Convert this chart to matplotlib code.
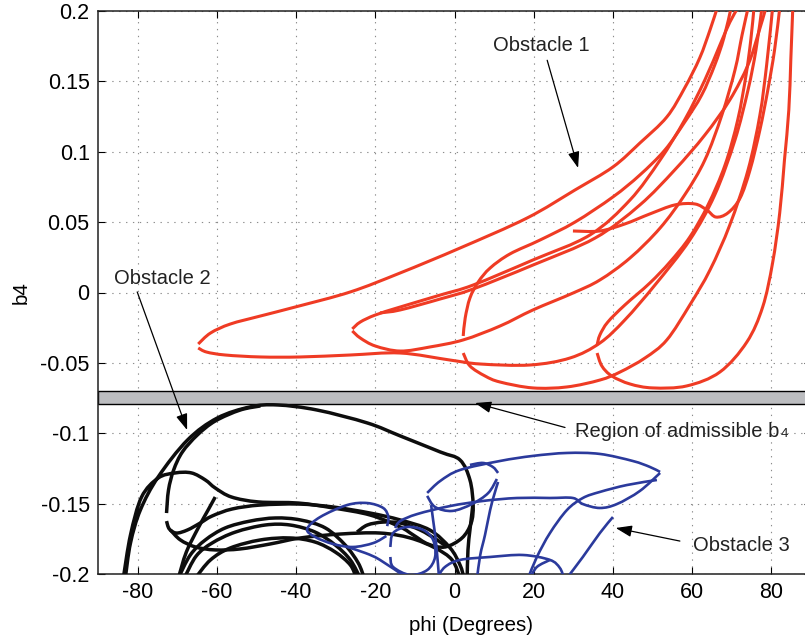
import matplotlib
matplotlib.use("Agg")
import matplotlib.pyplot as plt
import numpy as np
from matplotlib.patches import PathPatch
from matplotlib.path import Path

plt.rcParams["font.family"] = ["Liberation Sans", "DejaVu Sans"]

RED = "#ef3b24"
BLUE = "#2b3a9c"
BLACK = "#0d0d0d"
BAND = "#bcbdc0"

# region of admissible b4
band_low, band_high = -0.079, -0.070

x_ticks = [-80, -60, -40, -20, 0, 20, 40, 60, 80]
x_tick_labels = ["-80", "-60", "-40", "-20", "0", "20", "40", "60", "80"]
y_ticks = [-0.2, -0.15, -0.1, -0.05, 0, 0.05, 0.1, 0.15, 0.2]
y_tick_labels = ["-0.2", "-0.15", "-0.1", "-0.05", "0", "0.05", "0.1", "0.15", "0.2"]

# ---- obstacle 1 (red) ----
red_a_phi = [-64.7, -61.6, -56.6, -49.0, -40.2, -26.3, -13.7, 1.4, 18.3, 30.4, 40.0, 46.8, 53.6, 58.1, 61.9, 64.5, 66.3]
red_a_b4 = [-0.0366, -0.0288, -0.0224, -0.0167, -0.0103, 0.0004, 0.0139, 0.0316, 0.0529, 0.0728, 0.0892, 0.1062, 0.1247, 0.1453, 0.1666, 0.1865, 0.202]

red_b_phi = [-64.7, -62.6, -57.9, -49.0, -38.9, -26.3, -13.7, -1.1, 6.5, 19.1, 29.2, 36.7, 43.0, 50.6, 59.4, 65.7, 70.8, 74.1, 76.1, 77.6]
red_b_b4 = [-0.0394, -0.0423, -0.0444, -0.0458, -0.0458, -0.0444, -0.043, -0.048, -0.0508, -0.0515, -0.0465, -0.0359, -0.0195, 0.0053, 0.0373, 0.0693, 0.1083, 0.1439, 0.1723, 0.202]

red_c_phi = [-25.8, -23.8, -20.0, -13.7, -3.6, 4.7, 19.8, 34.2, 44.3, 51.9, 58.1, 63.2, 67.0, 69.5, 71.5]
red_c_b4 = [-0.0259, -0.021, -0.016, -0.0103, -0.0018, 0.0053, 0.0231, 0.0409, 0.0657, 0.0941, 0.1226, 0.151, 0.1758, 0.192, 0.202]

red_d_phi = [-18.8, -13.7, -3.6, 4.7, 19.8, 35.5, 46.8, 55.6, 63.2, 69.5, 74.1, 76.6, 78.6]
red_d_b4 = [-0.0145, -0.0124, -0.0046, 0.0025, 0.0195, 0.0387, 0.0622, 0.0871, 0.1119, 0.1368, 0.1617, 0.183, 0.202]

red_e_phi = [-25.8, -23.8, -20.0, -13.7, -6.2, 2.2, 11.5, 19.8, 29.9, 36.7, 44.3, 51.9, 58.1, 63.2, 67.5, 70.8, 72.6, 74.1]
red_e_b4 = [-0.0273, -0.0323, -0.038, -0.0416, -0.0387, -0.0337, -0.0238, -0.0124, -0.0004, 0.0089, 0.0245, 0.0458, 0.0693, 0.0941, 0.1261, 0.158, 0.183, 0.202]

red_f_phi = [2.2, 2.7, 3.9, 6.0, 9.0, 14.0, 21.6, 30.4, 40.0, 46.8, 53.1, 58.1, 62.4, 65.7, 68.0, 69.8]
red_f_b4 = [-0.0309, -0.0181, -0.0039, 0.0075, 0.0174, 0.0274, 0.0373, 0.050, 0.0679, 0.0835, 0.1012, 0.121, 0.1403, 0.1616, 0.1808, 0.202]

red_g_phi = [2.2, 3.9, 7.7, 11.5, 19.8, 28.4, 36.7, 41.8, 48.1, 53.6, 59.4, 64.5, 69.5, 74.1, 77.1, 78.8, 80.3]
red_g_b4 = [-0.043, -0.0522, -0.0593, -0.0636, -0.0678, -0.0671, -0.0622, -0.0565, -0.0465, -0.0337, -0.0089, 0.016, 0.048, 0.087, 0.1261, 0.1616, 0.202]

red_h_phi = [36.0, 36.7, 38.7, 43.0, 49.3, 54.4, 59.4, 64.0, 68.3, 71.5, 73.6, 74.8, 75.6]
red_h_b4 = [-0.0373, -0.0302, -0.021, -0.0089, 0.0067, 0.0217, 0.0394, 0.0622, 0.0906, 0.1226, 0.1545, 0.1794, 0.202]

red_i_phi = [36.0, 37.2, 39.7, 44.3, 50.1, 58.6, 67.0, 73.8, 77.8, 80.3, 82.1, 83.3, 84.4, 84.9, 85.4]
red_i_b4 = [-0.043, -0.0522, -0.0593, -0.065, -0.0678, -0.0664, -0.0565, -0.0352, -0.0103, 0.021, 0.0565, 0.0941, 0.1297, 0.1652, 0.202]

red_j_phi = [29.9, 36.7, 43.0, 49.3, 55.6, 60.7, 63.7, 66.0, 69.0, 72.1, 74.6, 77.1, 79.1, 80.8, 82.1]
red_j_b4 = [0.0437, 0.0437, 0.0487, 0.0558, 0.0622, 0.0629, 0.0586, 0.0536, 0.0565, 0.0671, 0.087, 0.1155, 0.1439, 0.1723, 0.202]

# ---- obstacle 2 (black) ----
black_a_phi = [-83.1, -81.8, -79.3, -74.8, -67.4, -59.9, -51.6, -44.7, -34.7, -22.0, -13.7, -3.6, 1.4, 3.9, 4.7, 4.2, 1.9, -2.4, -6.7, -10.4, -13.7, -21.3, -30.6, -39.4, -49.5, -56.3, -60.4, -62.9, -66.4, -70.5, -74.8, -79.0, -81.8, -83.6]
black_a_b4 = [-0.2028, -0.178, -0.1545, -0.131, -0.1048, -0.0892, -0.0813, -0.0799, -0.0835, -0.0927, -0.1019, -0.1133, -0.119, -0.1332, -0.151, -0.1638, -0.1744, -0.1808, -0.1787, -0.1723, -0.1666, -0.1581, -0.1531, -0.1496, -0.1488, -0.1453, -0.1389, -0.1332, -0.1282, -0.1282, -0.1318, -0.1453, -0.1723, -0.2028]

black_b_phi = [-72.7, -72.2, -70.9, -68.7, -64.9, -60.4, -54.1, -49.0]
black_b_b4 = [-0.1567, -0.1403, -0.1261, -0.1133, -0.1012, -0.0913, -0.0835, -0.0806]

black_c_phi = [-72.7, -72.0, -70.2, -67.4, -64.2, -61.2, -56.1, -49.0, -39.4, -30.6, -21.3, -13.7, -6.2, -1.1, 1.4, 2.4]
black_c_b4 = [-0.1624, -0.168, -0.1709, -0.1687, -0.1638, -0.1588, -0.1538, -0.151, -0.1503, -0.1524, -0.1567, -0.1616, -0.1688, -0.1815, -0.1936, -0.2028]

black_d_phi = [-60.4, -62.2, -64.7, -67.7, -69.7]
black_d_b4 = [-0.1453, -0.1545, -0.1673, -0.1844, -0.2028]

black_e_phi = [-69.7, -66.7, -62.9, -57.9, -51.6, -45.2, -38.9, -32.6, -27.6, -24.3, -22.8]
black_e_b4 = [-0.2028, -0.1865, -0.1758, -0.1673, -0.1624, -0.1602, -0.1616, -0.1673, -0.1794, -0.1922, -0.2028]

black_f_phi = [-68.2, -65.2, -61.2, -55.3, -47.8, -41.5, -35.2, -30.1, -26.3, -23.8]
black_f_b4 = [-0.2028, -0.1872, -0.178, -0.1702, -0.1652, -0.1652, -0.1702, -0.1794, -0.19, -0.2028]

black_g_phi = [-65.4, -61.6, -56.6, -49.0, -41.5, -35.2, -30.1, -26.3, -24.8]
black_g_b4 = [-0.2028, -0.19, -0.1815, -0.1758, -0.1744, -0.1773, -0.1844, -0.1936, -0.2028]

black_h_phi = [-71.7, -69.2, -65.4, -60.4, -54.1, -46.6, -38.9, -28.8, -18.8, -11.2, -4.9, -0.6, 1.4]
black_h_b4 = [-0.1688, -0.1758, -0.1808, -0.1829, -0.1822, -0.1787, -0.1744, -0.1716, -0.1709, -0.1744, -0.1815, -0.19, -0.2028]

black_i_phi = [-24.6, -22.0, -18.0, -13.7, -8.7, -4.4, -1.9]
black_i_b4 = [-0.1702, -0.1652, -0.1631, -0.1638, -0.1687, -0.1758, -0.1808]

black_j_phi = [4.6, 4.4, 3.9, 3.4, 3.2]
black_j_b4 = [-0.151, -0.1567, -0.1687, -0.1829, -0.2028]

# ---- obstacle 3 (blue) ----
blue_a_phi = [-17.0, -16.7, -18.0, -22.0, -27.1, -33.9, -37.2, -35.2, -30.6, -25.6, -20.5, -17.2]
blue_a_b4 = [-0.166, -0.1595, -0.1531, -0.1496, -0.151, -0.1595, -0.168, -0.1737, -0.1787, -0.1808, -0.178, -0.173]

blue_b_phi = [-16.2, -15.5, -12.0, -7.9, -5.4, -4.9, -6.9, -11.2, -15.5, -16.2]
blue_b_b4 = [-0.1808, -0.1709, -0.1666, -0.1687, -0.1758, -0.1879, -0.1972, -0.2007, -0.195, -0.1879]

blue_c_phi = [-6.9, -3.6, 1.4, 11.5, 19.8, 28.4, 36.7, 45.0, 49.3, 51.9]
blue_c_b4 = [-0.1424, -0.1339, -0.1261, -0.1197, -0.1161, -0.114, -0.1147, -0.1197, -0.1239, -0.1275]

blue_d_phi = [-6.9, -4.9, -0.6, 4.4, 8.5, 10.7]
blue_d_b4 = [-0.1445, -0.1524, -0.1552, -0.1503, -0.1425, -0.1325]

blue_e_phi = [3.9, 7.2, 9.7, 11.0]
blue_e_b4 = [-0.1225, -0.1211, -0.124, -0.1282]

blue_f_phi = [11.0, 10.0, 9.0, 7.7, 6.5, 5.7]
blue_f_b4 = [-0.1346, -0.1439, -0.1545, -0.1723, -0.1865, -0.2028]

blue_g_phi = [51.9, 46.8, 41.0, 36.7, 32.4, 29.9, 24.1, 15.8, 7.2, -1.1, -9.4, -13.7, -15.0]
blue_g_b4 = [-0.1282, -0.141, -0.1503, -0.1531, -0.1503, -0.146, -0.146, -0.146, -0.1481, -0.1517, -0.1574, -0.1624, -0.1673]

blue_h_phi = [51.1, 43.5, 36.7, 32.4, 28.4, 24.1, 20.8, 18.6]
blue_h_b4 = [-0.1332, -0.1368, -0.1417, -0.146, -0.1545, -0.1709, -0.1879, -0.2028]

blue_i_phi = [40.0, 36.7, 32.4, 28.4]
blue_i_b4 = [-0.1595, -0.1709, -0.1879, -0.2028]

blue_j_phi = [-4.4, -2.4, 1.4, 9.0, 17.3, 24.1, 26.6, 27.6]
blue_j_b4 = [-0.2028, -0.195, -0.19, -0.1879, -0.1865, -0.19, -0.1957, -0.2028]

blue_k_phi = [19.1, 20.8, 24.1]
blue_k_b4 = [-0.2028, -0.195, -0.19]

blue_l_phi = [-5.9, -5.4, -4.6, -3.9]
blue_l_b4 = [-0.151, -0.1616, -0.1794, -0.2028]

blue_m_phi = [-27.1, -22.5, -18.8, -12.0]
blue_m_b4 = [-0.1808, -0.1851, -0.19, -0.2028]

red_curves = [(red_a_phi, red_a_b4), (red_b_phi, red_b_b4), (red_c_phi, red_c_b4),
              (red_d_phi, red_d_b4), (red_e_phi, red_e_b4), (red_f_phi, red_f_b4),
              (red_g_phi, red_g_b4), (red_h_phi, red_h_b4), (red_i_phi, red_i_b4),
              (red_j_phi, red_j_b4)]
black_curves = [(black_a_phi, black_a_b4), (black_b_phi, black_b_b4), (black_c_phi, black_c_b4),
                (black_d_phi, black_d_b4), (black_e_phi, black_e_b4), (black_f_phi, black_f_b4),
                (black_g_phi, black_g_b4), (black_h_phi, black_h_b4), (black_i_phi, black_i_b4),
                (black_j_phi, black_j_b4)]
blue_curves = [(blue_a_phi, blue_a_b4), (blue_b_phi, blue_b_b4), (blue_c_phi, blue_c_b4),
               (blue_d_phi, blue_d_b4), (blue_e_phi, blue_e_b4), (blue_f_phi, blue_f_b4),
               (blue_g_phi, blue_g_b4), (blue_h_phi, blue_h_b4), (blue_i_phi, blue_i_b4),
               (blue_j_phi, blue_j_b4), (blue_k_phi, blue_k_b4), (blue_l_phi, blue_l_b4),
               (blue_m_phi, blue_m_b4)]


def smooth_path(phi, b4):
    """Bezier path passing through the read points (Catmull-Rom tangents)."""
    pts = np.column_stack([phi, b4])
    n = len(pts)
    verts = [pts[0]]
    codes = [Path.MOVETO]
    for i in range(n - 1):
        p0 = pts[i - 1] if i > 0 else pts[i]
        p1, p2 = pts[i], pts[i + 1]
        p3 = pts[i + 2] if i + 2 < n else pts[i + 1]
        verts += [p1 + (p2 - p0) / 6, p2 - (p3 - p1) / 6, p2]
        codes += [Path.CURVE4] * 3
    return Path(verts, codes)


def draw(ax, curves, color, lw, z):
    for phi, b4 in curves:
        ax.add_patch(PathPatch(smooth_path(phi, b4), fill=False, edgecolor=color,
                               lw=lw, joinstyle="round", capstyle="butt", zorder=z))


def main():
    fig = plt.figure(figsize=(8.05, 6.4), dpi=100)
    # right edge of the axes sits just outside the picture, as in the original crop
    ax = fig.add_axes([98 / 805, 66 / 640, 713 / 805, 563 / 640])

    ax.axhspan(band_low, band_high, facecolor=BAND, edgecolor="black", lw=1.0, zorder=1)

    draw(ax, red_curves, RED, 2.2, 3)
    draw(ax, black_curves, BLACK, 2.5, 3)
    draw(ax, blue_curves, BLUE, 1.9, 4)

    ax.set_xlim(-90, 90)
    ax.set_ylim(-0.2, 0.2)
    ax.set_xticks(x_ticks, x_tick_labels)
    ax.set_yticks(y_ticks, y_tick_labels)
    ax.tick_params(direction="in", length=5, width=0.8, top=True, right=True,
                   labelsize=15.5, pad=6)
    ax.grid(True, linestyle=(0, (1.2, 5)), color="#8c8c8c", lw=0.8)
    ax.set_axisbelow(True)
    for side in ax.spines.values():
        side.set_linewidth(1.1)
        side.set_color("#202020")

    ax.set_xlabel("phi (Degrees)", fontsize=14.8)
    ax.xaxis.set_label_coords((471 - 98) / 713, -0.075)
    ax.set_ylabel("b4", fontsize=14.8)
    ax.yaxis.set_label_coords(-0.095, 0.5)

    arrow = dict(arrowstyle="-|>,head_length=0.7,head_width=0.25", color="black",
                 lw=0.9, mutation_scale=14, shrinkA=0, shrinkB=0)
    txt = dict(fontsize=14.5, color="#222222", va="center")

    ax.text(21.8, 0.1758, "Obstacle 1", ha="center", **txt)
    ax.annotate("", xy=(31.2, 0.0885), xytext=(23.4, 0.165), arrowprops=arrow, zorder=6)

    ax.text(-73.7, 0.0103, "Obstacle 2", ha="center", **txt)
    ax.annotate("", xy=(-67.5, -0.0977), xytext=(-80.1, 0.0004), arrowprops=arrow, zorder=6)

    region = ax.text(30.4, -0.0991, "Region of admissible b", ha="left", **txt)
    ax.annotate("4", xy=(1, 0), xycoords=region, xytext=(1, 3.0), textcoords="offset points",
                fontsize=9.5, color="#222222", va="baseline", ha="left")
    ax.annotate("", xy=(5.2, -0.0785), xytext=(27.9, -0.0959), arrowprops=arrow, zorder=6)

    ax.text(60.2, -0.1794, "Obstacle 3", ha="left", **txt)
    ax.annotate("", xy=(40.7, -0.1673), xytext=(56.9, -0.1766), arrowprops=arrow, zorder=6)

    fig.savefig("out.png", dpi=100)


if __name__ == "__main__":
    main()
